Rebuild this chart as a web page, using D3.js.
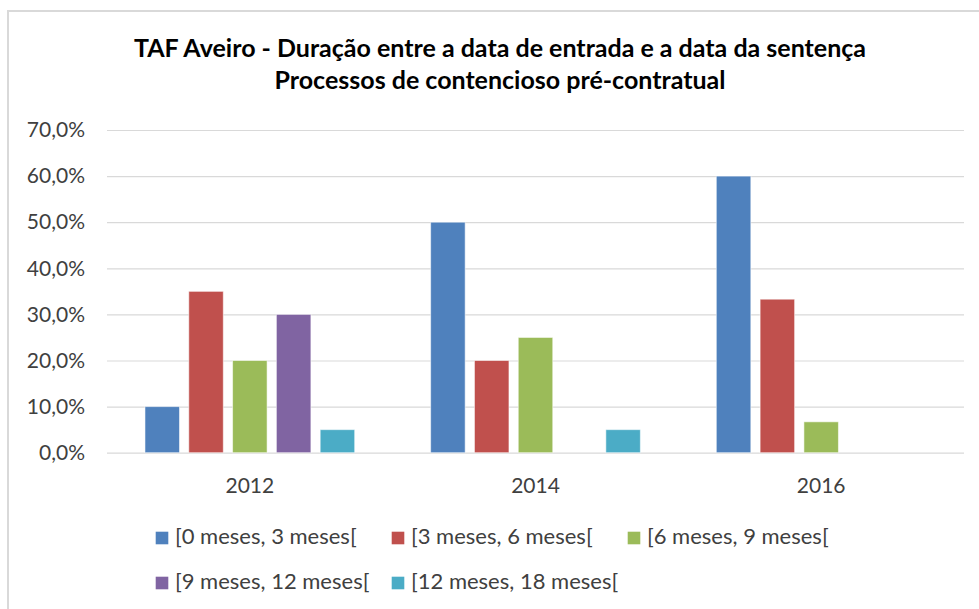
<!DOCTYPE html>
<html>
<head>
<meta charset="utf-8">
<script src="https://cdn.jsdelivr.net/npm/d3@7"></script>
<style>
  body { margin: 0; background: #fff; }
  svg { display: block; font-family: Lato, "Open Sans", sans-serif; }
</style>
</head>
<body>
<div id="chart"></div>
<script>
// chart values
var years = ["2012", "2014", "2016"];
var seriesNames = ["[0 meses, 3 meses[", "[3 meses, 6 meses[", "[6 meses, 9 meses[",
                   "[9 meses, 12 meses[", "[12 meses, 18 meses["];
var s0to3 = [0.10, 0.50, 0.60];
var s3to6 = [0.35, 0.20, 0.333];
var s6to9 = [0.20, 0.25, 0.067];
var s9to12 = [0.30, 0, 0];
var s12to18 = [0.05, 0.05, 0];
var yTicks = [0, 0.1, 0.2, 0.3, 0.4, 0.5, 0.6, 0.7];
var titleLines = ["TAF Aveiro - Duração entre a data de entrada e a data da sentença",
                  "Processos de contencioso pré-contratual"];

var colors = ["#4F81BD", "#C0504D", "#9BBB59", "#8064A2", "#4BACC6"];
var allSeries = [s0to3, s3to6, s6to9, s9to12, s12to18];

var svgWidth = 979;
var svgHeight = 609;

// plot area
var plot = { left: 107, right: 964, top: 130, bottom: 452.7 };

var svg = d3.select("#chart")
    .append("svg")
    .attr("width", svgWidth)
    .attr("height", svgHeight);

// outer chart frame (runs off the right/bottom edge like the screenshot)
svg.append("rect")
    .attr("x", 8)
    .attr("y", 11)
    .attr("width", 1000)
    .attr("height", 700)
    .attr("fill", "#fff")
    .attr("stroke", "#d9d9d9")
    .attr("stroke-width", 2);

// title
svg.append("g")
    .selectAll("text")
    .data(titleLines)
    .join("text")
    .attr("x", 500)
    .attr("y", (d, i) => 56.7 + i * 32.6)
    .attr("text-anchor", "middle")
    .attr("font-size", 25)
    .attr("font-weight", "bold")
    .attr("fill", "#000")
    .text(d => d);

// scales
var y = d3.scaleLinear()
    .domain([0, 0.7])
    .range([plot.bottom, plot.top]);

var x0 = d3.scaleBand()
    .domain(years)
    .range([plot.left, plot.right]);

var x1 = d3.scaleBand()
    .domain(seriesNames)
    .range([0, x0.bandwidth()])
    .paddingInner(0.212)
    .paddingOuter(0.867);

var pctFormat = d => d3.format(".1f")(d * 100).replace(".", ",") + "%";

// y axis with gridlines
var yAxis = svg.append("g")
    .attr("transform", `translate(${plot.left}, 0)`)
    .call(d3.axisLeft(y)
        .tickValues(yTicks)
        .tickSize(-(plot.right - plot.left))
        .tickPadding(22)
        .tickFormat(pctFormat));
yAxis.select(".domain").remove();
yAxis.selectAll("line")
    .attr("stroke", "#d9d9d9")
    .attr("stroke-width", 1.2);
yAxis.selectAll("text")
    .attr("font-size", 21)
    .attr("font-family", "Lato, sans-serif")
    .attr("fill", "#404040");

// x axis labels
var xAxis = svg.append("g")
    .attr("transform", `translate(0, ${plot.bottom})`)
    .call(d3.axisBottom(x0).tickSize(0).tickPadding(25));
xAxis.select(".domain").remove();
xAxis.selectAll("text")
    .attr("font-size", 21)
    .attr("font-family", "Lato, sans-serif")
    .attr("fill", "#404040");

// bars
var barData = [];
years.forEach((yr, i) => {
    seriesNames.forEach((name, j) => {
        barData.push({ year: yr, series: name, value: allSeries[j][i], color: colors[j] });
    });
});

svg.append("g")
    .selectAll("rect")
    .data(barData.filter(d => d.value > 0))
    .join("rect")
    .attr("x", d => x0(d.year) + x1(d.series))
    .attr("y", d => y(d.value))
    .attr("width", x1.bandwidth())
    .attr("height", d => y(0) - y(d.value))
    .attr("fill", d => d.color)
    .attr("stroke", "rgba(255,255,255,0.55)")
    .attr("stroke-width", 1);

// legend, 3 columns per row
var legendCols = 3;
var legendX = 155.7, legendColW = 236, legendY = 531.7, legendRowH = 45;

var legend = svg.append("g")
    .selectAll("g")
    .data(seriesNames)
    .join("g")
    .attr("transform", (d, i) =>
        `translate(${legendX + (i % legendCols) * legendColW}, ${legendY + Math.floor(i / legendCols) * legendRowH})`);

legend.append("rect")
    .attr("width", 12.6)
    .attr("height", 12.6)
    .attr("fill", (d, i) => colors[i]);

legend.append("text")
    .attr("x", 19.3)
    .attr("y", 12.5)
    .attr("font-size", 22)
    .attr("fill", "#404040")
    .text(d => d);
</script>
</body>
</html>
